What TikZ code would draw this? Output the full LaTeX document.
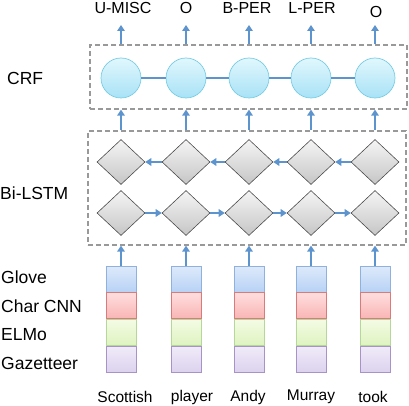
\documentclass[tikz,border=0pt]{standalone}
\usepackage{fontspec}
\setmainfont{Liberation Sans}
\usetikzlibrary{positioning,shapes.geometric,arrows.meta,calc}
\definecolor{arrowblue}{RGB}{94,148,206}
\definecolor{crfedge}{RGB}{120,205,228}
\definecolor{crftop}{RGB}{225,247,253}
\definecolor{crfbot}{RGB}{168,226,246}
\tikzset{
    lbl/.style={font=\fontsize{17.5}{20}\selectfont, inner sep=0pt},
    word/.style={font=\fontsize{15.5}{18}\selectfont, inner sep=0pt}
}

\begin{document}
\begin{tikzpicture}[x=1pt, y=-1pt,
    crf/.style={draw=crfedge, circle, minimum size=40pt, inner sep=0pt, top color=crftop, bottom color=crfbot, line width=0.7pt},
    cell/.style={draw=black!70, diamond, minimum width=48pt, minimum height=45pt, inner sep=0pt, top color=gray!8, bottom color=gray!45, line width=0.6pt},
    layerbox/.style={draw=gray!80, dash pattern=on 5pt off 3pt, line width=1.3pt, inner sep=0pt},
    emb/.style={minimum width=30pt, minimum height=26pt, inner sep=0pt, line width=0.8pt},
    glove/.style={emb, draw={rgb,255:red,142;green,177;blue,222}, top color={rgb,255:red,222;green,234;blue,251}, bottom color={rgb,255:red,184;green,210;blue,245}},
    charcnn/.style={emb, draw={rgb,255:red,217;green,123;blue,123}, top color={rgb,255:red,255;green,222;blue,222}, bottom color={rgb,255:red,249;green,180;blue,180}},
    elmo/.style={emb, draw={rgb,255:red,181;green,216;blue,154}, top color={rgb,255:red,244;green,251;blue,228}, bottom color={rgb,255:red,222;green,243;blue,192}},
    gaz/.style={emb, draw={rgb,255:red,168;green,147;blue,200}, top color={rgb,255:red,240;green,235;blue,249}, bottom color={rgb,255:red,220;green,210;blue,238}},
    arrow/.style={-{Triangle[length=6pt,width=7.5pt]}, arrowblue, line width=2pt},
    link/.style={arrowblue, line width=2pt}]

\useasboundingbox (0,0) rectangle (409,406);

% layer frames
\node [layerbox, minimum width=317pt, minimum height=64pt] (crfbox) at (248.5,77) {};
\node [layerbox, minimum width=318pt, minimum height=114pt] (lstmbox) at (247,188) {};
\coordinate (tipline) at (0,25);

% columns
\foreach \x [count=\i] in {121,186,249,311,375} {
    \node [crf] (c\i) at (\x,78) {};
    \node [cell] (b\i) at (\x,162) {};
    \node [cell] (f\i) at (\x,213) {};
    \node [glove] (g\i) at (\x,279) {};
    \node [charcnn, below=0pt of g\i] (h\i) {};
    \node [elmo, below=0pt of h\i] (e\i) {};
    \node [gaz, below=0pt of e\i] (z\i) {};
    \draw [arrow] (g\i.north) -- (lstmbox.south -| g\i);
    \draw [arrow] (lstmbox.north -| c\i) -- (crfbox.south -| c\i);
    \draw [arrow] (crfbox.north -| c\i) -- (tipline -| c\i);
}

% chain links
\foreach \i [evaluate=\i as \j using int(\i+1)] in {1,...,4} {
    \draw [link] (c\i) -- (c\j);
    \draw [arrow] (b\j.west) -- (b\i.east);
    \draw [arrow] (f\i.east) -- (f\j.west);
}

% tags
\foreach \x/\y/\t [count=\i] in {123/8/U-MISC, 186/8/O, 247/8/B-PER, 312/8/L-PER, 376/12/O}
    \node [word, font=\fontsize{16}{19}\selectfont] (tag\i) at (\x,\y) {\t};

% words
\foreach \x/\t [count=\i] in {125/Scottish, 192/player, 248/Andy, 311/Murray, 373/took}
    \node [word] (w\i) at (\x,397) {\t};

% layer names
\node [lbl, anchor=west] (crflbl) at (7,78) {CRF};
\node [lbl, anchor=west] (lstmlbl) at (0,193) {Bi-LSTM};
\node [lbl, anchor=west] (glovelbl) at (1,277) {Glove};
\node [lbl, anchor=west] (charlbl) at (1,306) {Char CNN};
\node [lbl, anchor=west] (elmolbl) at (1,335) {ELMo};
\node [lbl, anchor=west] (gazlbl) at (1,363) {Gazetteer};

\end{tikzpicture}
\end{document}
